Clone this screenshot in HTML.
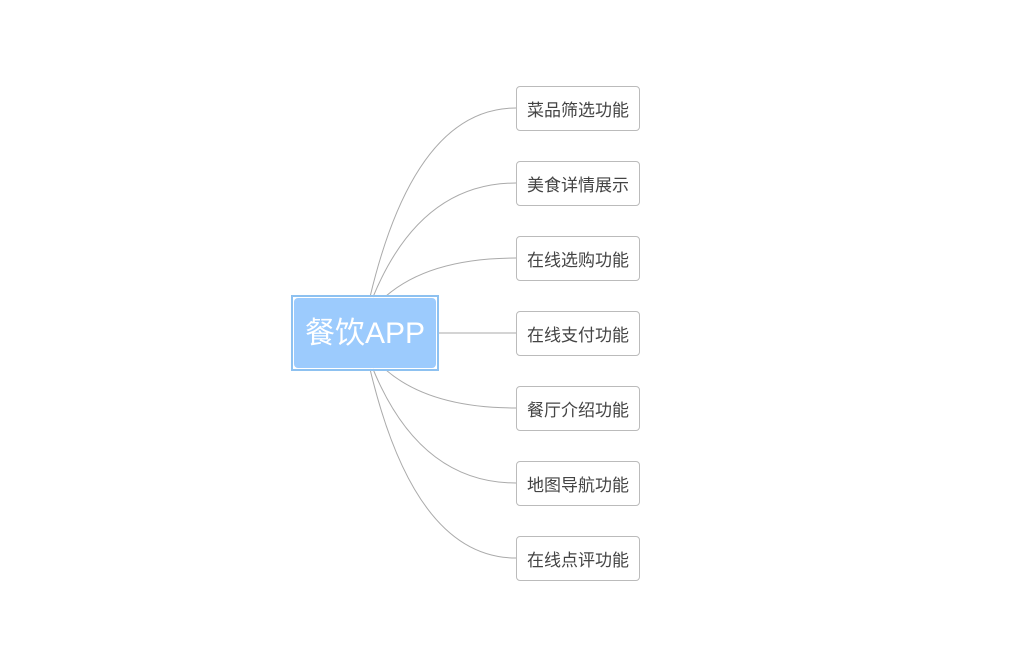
<!DOCTYPE html>
<html><head><meta charset="utf-8"><style>
body{margin:0;background:#fff;width:1013px;height:658px;overflow:hidden;position:relative;font-family:"Liberation Sans","Noto Sans CJK SC",sans-serif}
.c{position:absolute;left:516px;width:122px;height:43px;border:1px solid #bbb;border-radius:4px;background:#fff;color:#444;font-size:17px;line-height:47px;text-align:center;box-sizing:content-box}
.root{position:absolute;left:291px;top:295px;width:144px;height:72px;border:2px solid #8dc1f0;box-sizing:content-box}
.root div{position:absolute;left:1px;top:1px;right:1px;bottom:1px;background:#9ccbfd;border-radius:4px;color:#fff;font-size:30px;line-height:72px;text-align:center}
</style></head><body>
<svg width="1013" height="658" style="position:absolute;left:0;top:0">
<g fill="none" stroke="#aaa" stroke-width="1">
<path d="M370,297 Q415,108 516,108"/>
<path d="M373,297 Q420,183 516,183"/>
<path d="M386,296 Q430,258 516,258"/>
<path d="M438,333 L516,333"/>
<path d="M386,370 Q430,408 516,408"/>
<path d="M373,369 Q420,483 516,483"/>
<path d="M370,369 Q415,558 516,558"/>
</g></svg>
<div class="root"><div>餐饮APP</div></div>
<div class="c" style="top:86px">菜品筛选功能</div>
<div class="c" style="top:161px">美食详情展示</div>
<div class="c" style="top:236px">在线选购功能</div>
<div class="c" style="top:311px">在线支付功能</div>
<div class="c" style="top:386px">餐厅介绍功能</div>
<div class="c" style="top:461px">地图导航功能</div>
<div class="c" style="top:536px">在线点评功能</div>
</body></html>
